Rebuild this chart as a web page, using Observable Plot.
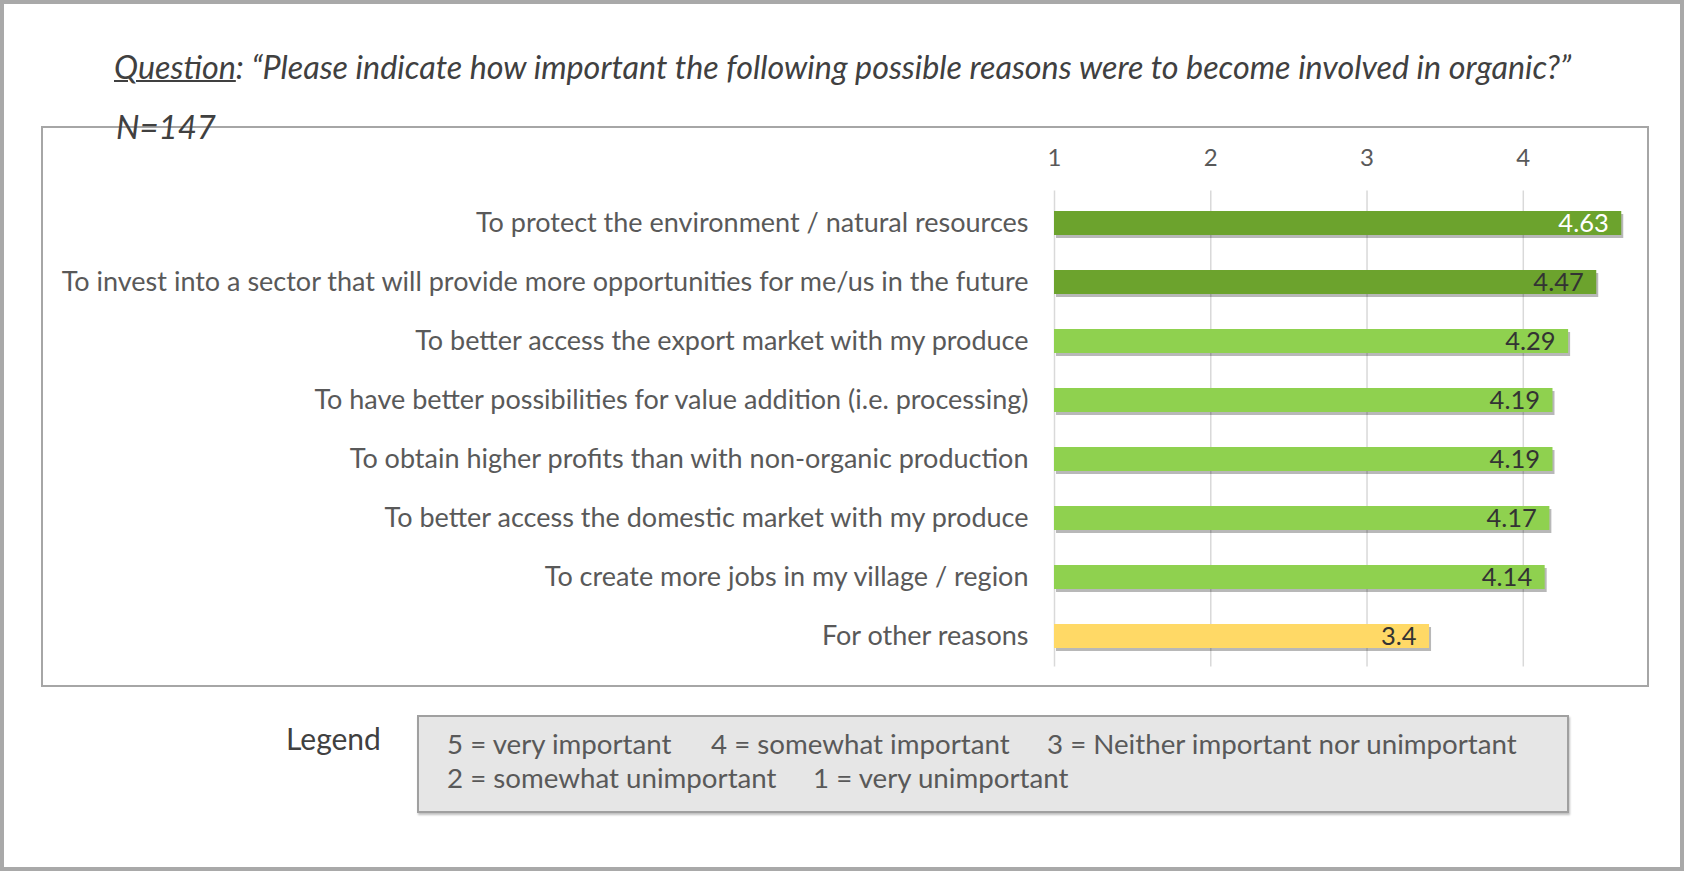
<!DOCTYPE html>
<html>
<head>
<meta charset="utf-8">
<script src="https://cdn.jsdelivr.net/npm/d3@7"></script>
<script src="https://cdn.jsdelivr.net/npm/@observablehq/plot@0.6"></script>
<style>
  html, body { margin: 0; padding: 0; background: #fff; }
  #frame { position: absolute; left: 0; top: 0; width: 1684px; height: 871px; box-sizing: border-box; border: 4px solid #a9a9a9; background: #fff; }
  #title { position: absolute; left: 114px; top: 47px; font-family: Lato, sans-serif; font-style: italic; font-size: 32.3px; color: #404040; white-space: nowrap; }
  #title u { text-decoration-thickness: 2px; }
  #n { position: absolute; left: 116px; top: 106px; font-family: Lato, sans-serif; font-style: italic; font-size: 33px; color: #404040; z-index: 3; }
  #box { position: absolute; left: 41px; top: 126px; width: 1608px; height: 561px; box-sizing: border-box; border: 2px solid #a6a6a6; }
  #chart { position: absolute; left: 41px; top: 126px; }
  #legLabel { position: absolute; left: 286px; top: 720px; font-family: Lato, sans-serif; font-size: 30px; color: #404040; }
  #legBox { position: absolute; left: 417px; top: 715px; width: 1152px; height: 98px; box-sizing: border-box; border: 2px solid #a0a0a0; background: #e6e6e6; box-shadow: 1px 2px 2px rgba(0,0,0,0.25); font-family: Lato, sans-serif; font-size: 27.7px; color: #595959; }
  .ll { position: absolute; white-space: nowrap; }
</style>
</head>
<body>
<div id="frame"></div>
<div id="title"><u>Question</u>: “Please indicate how important the following possible reasons were to become involved in organic?”</div>
<div id="n">N=147</div>
<div id="box"></div>
<div id="chart"></div>
<div id="legLabel">Legend</div>
<div id="legBox">
  <span class="ll" style="left:28px;top:10px">5 = very important</span>
  <span class="ll" style="left:292px;top:10px">4 = somewhat important</span>
  <span class="ll" style="left:628px;top:10px">3 = Neither important nor unimportant</span>
  <span class="ll" style="left:28px;top:44px">2 = somewhat unimportant</span>
  <span class="ll" style="left:394px;top:44px">1 = very unimportant</span>
</div>
<script>
const reasons = [
  "To protect the environment / natural resources",
  "To invest into a sector that will provide more opportunities for me/us in the future",
  "To better access the export market with my produce",
  "To have better possibilities for value addition (i.e. processing)",
  "To obtain higher profits than with non-organic production",
  "To better access the domestic market with my produce",
  "To create more jobs in my village / region",
  "For other reasons"
];
const means = [4.63, 4.47, 4.29, 4.19, 4.19, 4.17, 4.14, 3.4];
const tiers = ["top", "top", "mid", "mid", "mid", "mid", "mid", "low"];
const tickValues = [1, 2, 3, 4];

const data = reasons.map((r, i) => ({reason: r, mean: means[i], tier: tiers[i]}));

const chart = Plot.plot({
  width: 1608,
  height: 561,
  marginLeft: 1013,
  marginRight: 9,
  marginTop: 48.6,
  marginBottom: 2.4,
  style: {fontFamily: "Lato, sans-serif", background: "transparent"},
  x: {domain: [1, 4.75], axis: null},
  y: {domain: reasons, padding: 0.6, axis: null},
  color: {domain: ["top", "mid", "low"], range: ["#6ca32d", "#8fd14f", "#ffd966"]},
  marks: [
    Plot.ruleX(tickValues, {x: d => d, stroke: "#d9d9d9", strokeWidth: 1.5, insetTop: 16, insetBottom: 18}),
    Plot.text(tickValues, {x: d => d, frameAnchor: "top", dy: -26, text: d => String(d), fontSize: 24, fill: "#595959", textAnchor: "middle"}),
    Plot.axisY({tickSize: 0, tickPadding: 26, fontSize: 27, color: "#595959", label: null}),
    Plot.barX(data, {y: "reason", x1: 1, x2: "mean", fill: "#000", fillOpacity: 0.28, dx: 2, dy: 3}),
    Plot.barX(data, {y: "reason", x1: 1, x2: "mean", fill: "tier"}),
    Plot.text(data, {y: "reason", x: "mean", text: d => String(d.mean), textAnchor: "end", dx: -13, fontSize: 25.5, fill: d => d.tier === "top" && d.mean > 4.6 ? "#ffffff" : "#333333"})
  ]
});
document.getElementById("chart").appendChild(chart);
</script>
</body>
</html>
